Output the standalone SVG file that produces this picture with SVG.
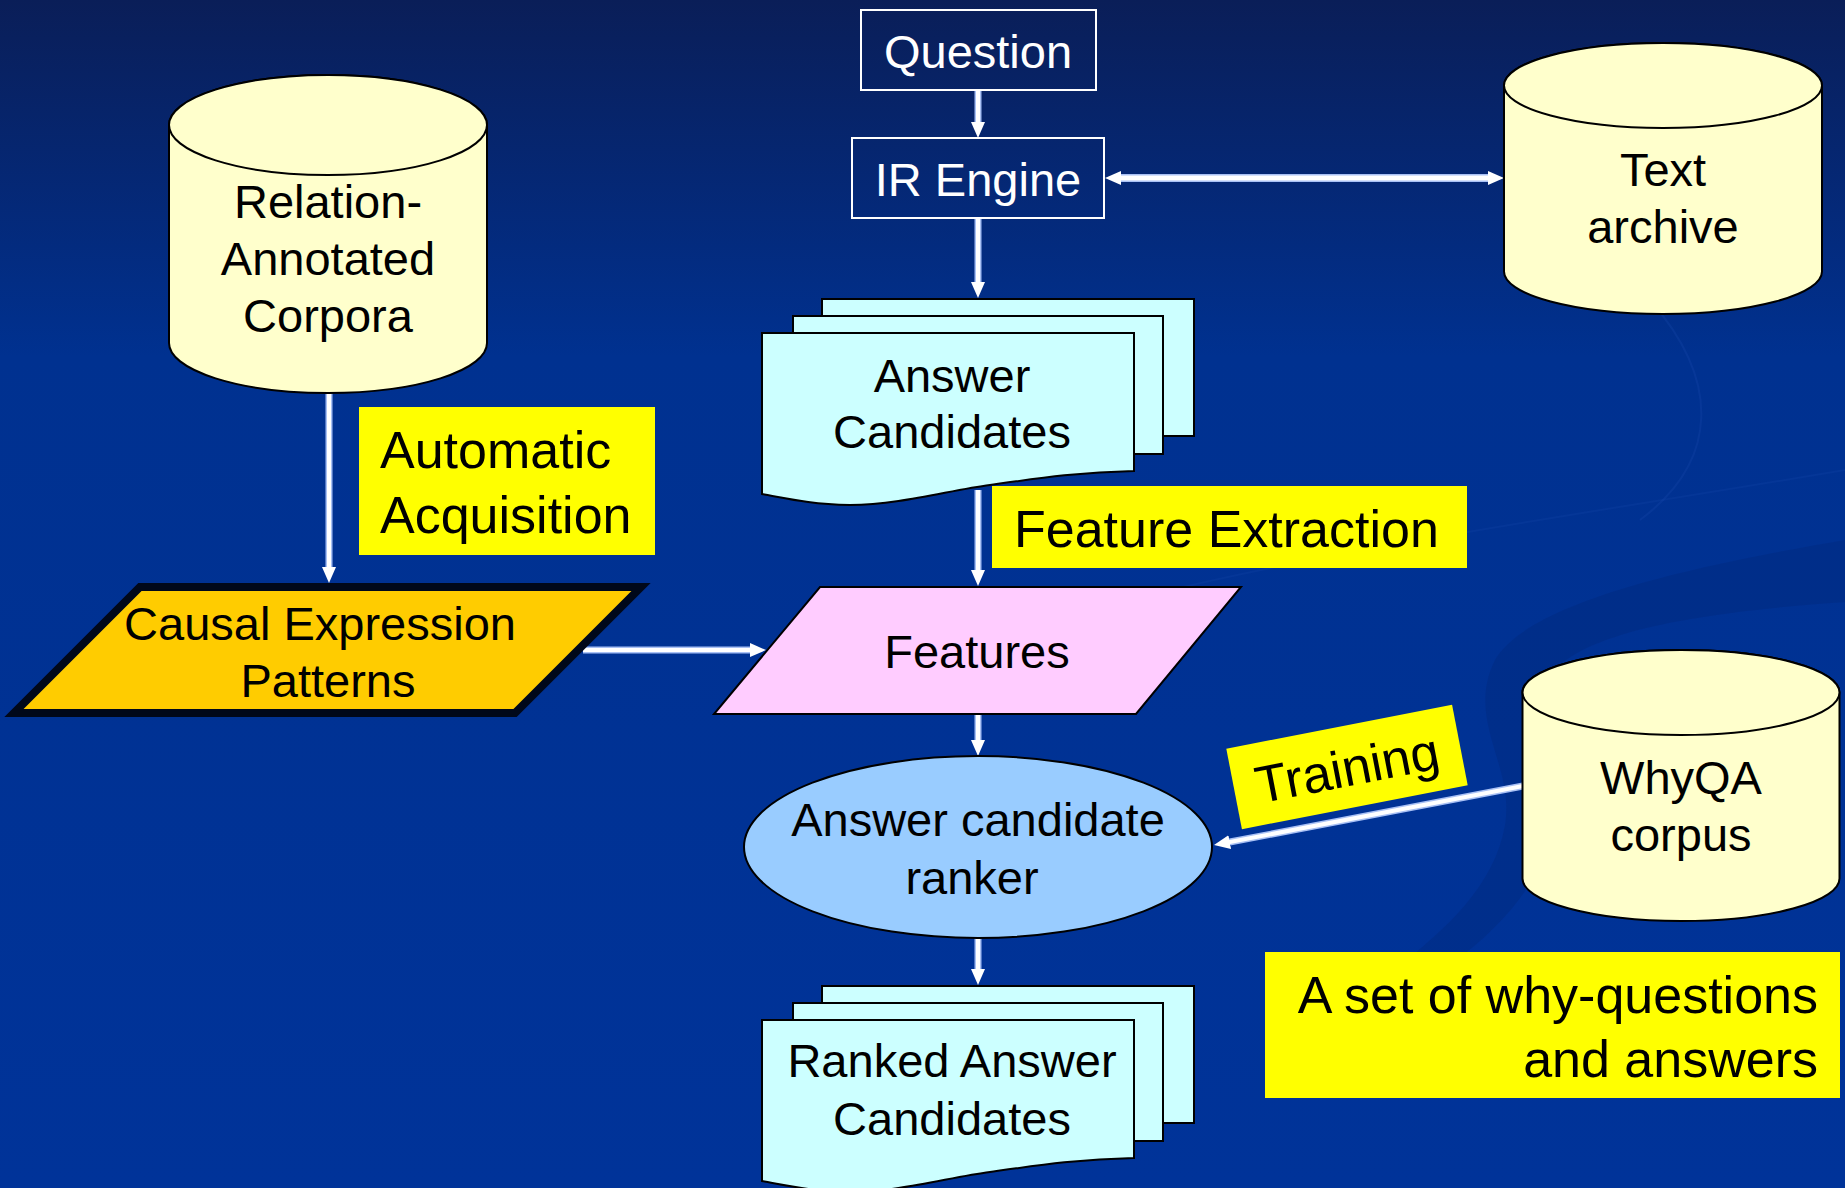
<svg xmlns="http://www.w3.org/2000/svg" width="1845" height="1188" viewBox="0 0 1845 1188">
<defs>
<linearGradient id="bg" x1="0" y1="0" x2="0" y2="1">
<stop offset="0" stop-color="#0a1e58"/>
<stop offset="0.3" stop-color="#003190"/>
<stop offset="1" stop-color="#003399"/>
</linearGradient>
<marker id="ah" viewBox="0 0 16 16" refX="4" refY="8" markerWidth="16" markerHeight="16" markerUnits="userSpaceOnUse" orient="auto-start-reverse">
<path d="M0,1 L16,8 L0,15 z" fill="#ffffff"/>
</marker>
<style>
.t{font-family:"Liberation Sans",Arial,sans-serif;fill:#000;}
.w{fill:#fff;}
.s47{font-size:47px;}
.s52{font-size:52px;}
.mid{text-anchor:middle;}
.end{text-anchor:end;}
.halo{fill:none;stroke:#a9c1f5;stroke-width:7;}
.line{fill:none;stroke:#ffffff;stroke-width:4;}
.db{fill:#FFFFCC;stroke:#000;stroke-width:2;}
.doc{fill:#CCFFFF;stroke:#000;stroke-width:2;}
.lbl{fill:#FFFF00;}
.box{fill:none;stroke:#fff;stroke-width:2;}
</style>
</defs>
<rect width="1845" height="1188" fill="url(#bg)"/>
<g id="background-swirls">
<path opacity="0.45" d="M1845,540 C1700,565 1530,600 1495,660 C1465,720 1515,765 1505,825 C1495,885 1445,930 1400,965 L1450,965 C1505,925 1548,875 1552,820 C1556,760 1525,720 1545,682 C1575,630 1705,612 1845,602 Z" fill="#002a7e"/>
<path opacity="0.2" d="M1060,620 C1250,560 1550,520 1845,470" fill="none" stroke="#1a4ab0" stroke-width="2"/>
<path opacity="0.25" d="M1650,300 C1720,380 1720,460 1640,520" fill="none" stroke="#1a4ab0" stroke-width="2"/>
</g>
<g id="connectors">
<path class="halo" d="M978,90 V126"/><path class="line" d="M978,90 V126" marker-end="url(#ah)"/>
<path class="halo" d="M1117,178 H1492" style="stroke-width:8"/><path class="line" d="M1117,178 H1492" style="stroke-width:5" marker-start="url(#ah)" marker-end="url(#ah)"/>
<path class="halo" d="M978,218 V286"/><path class="line" d="M978,218 V286" marker-end="url(#ah)"/>
<path class="halo" d="M978,490 V574"/><path class="line" d="M978,490 V574" marker-end="url(#ah)"/>
<path class="halo" d="M978,714 V744"/><path class="line" d="M978,714 V744" marker-end="url(#ah)"/>
<path class="halo" d="M978,938 V973"/><path class="line" d="M978,938 V973" marker-end="url(#ah)"/>
<path class="halo" d="M329,393 V571"/><path class="line" d="M329,393 V571" marker-end="url(#ah)"/>
<path class="halo" d="M583,650 H754"/><path class="line" d="M583,650 H754" marker-end="url(#ah)"/>
<path class="halo" d="M1523,786 L1225.8,842.8"/><path class="line" d="M1523,786 L1225.8,842.8" marker-end="url(#ah)"/>
</g>
<g id="question">
<rect class="box" x="861" y="10" width="235" height="80"/>
<text class="t w s47 mid" x="978" y="68">Question</text>
</g>
<g id="ir-engine">
<rect class="box" x="852" y="138" width="252" height="80"/>
<text class="t w s47 mid" x="978" y="196">IR Engine</text>
</g>
<g id="text-archive">
<path class="db" d="M1504,85.5 V271.5 A159,42.5 0 0 0 1822,271.5 V85.5 A159,42.5 0 0 0 1504,85.5 Z"/>
<ellipse class="db" cx="1663" cy="85.5" rx="159" ry="42.5"/>
<text class="t s47 mid" x="1663" y="186">Text</text>
<text class="t s47 mid" x="1663" y="243">archive</text>
</g>
<g id="relation-corpora">
<path class="db" d="M169,125 V343 A159,50 0 0 0 487,343 V125 A159,50 0 0 0 169,125 Z"/>
<ellipse class="db" cx="328" cy="125" rx="159" ry="50"/>
<text class="t s47 mid" x="328" y="218">Relation-</text>
<text class="t s47 mid" x="328" y="275">Annotated</text>
<text class="t s47 mid" x="328" y="332">Corpora</text>
</g>
<g id="answer-candidates">
<rect class="doc" x="822" y="299" width="372" height="137"/>
<rect class="doc" x="793" y="316" width="370" height="138"/>
<path class="doc" d="M762,333 H1134 V471 C1080,472 1040,478 990,485 C950,490 900,505 850,505 C810,504 790,499 762,494 Z"/>
<text class="t s47 mid" x="952" y="392">Answer</text>
<text class="t s47 mid" x="952" y="448">Candidates</text>
</g>
<g id="automatic-acquisition">
<rect class="lbl" x="359" y="407" width="296" height="148"/>
<text class="t s52" x="380" y="468">Automatic</text>
<text class="t s52" x="380" y="533">Acquisition</text>
</g>
<g id="feature-extraction">
<rect class="lbl" x="992" y="486" width="475" height="82"/>
<text class="t s52" x="1014" y="547">Feature Extraction</text>
</g>
<g id="causal-patterns">
<path d="M140,587 H641 L515,713 H14 Z" fill="#FFCC00" stroke="#00081a" stroke-width="8" stroke-linejoin="miter"/>
<text class="t s47 mid" x="320" y="640">Causal Expression</text>
<text class="t s47 mid" x="328" y="697">Patterns</text>
</g>
<g id="features">
<path d="M820,587 H1241 L1136,714 H714 Z" fill="#FFCCFF" stroke="#000" stroke-width="2"/>
<text class="t s47 mid" x="977" y="668">Features</text>
</g>
<g id="ranker">
<ellipse cx="978" cy="847" rx="234" ry="91" fill="#99CCFF" stroke="#000" stroke-width="2"/>
<text class="t s47 mid" x="978" y="836">Answer candidate</text>
<text class="t s47 mid" x="972" y="894">ranker</text>
</g>
<g id="training-label">
<g transform="rotate(-11 1347 767)">
<rect class="lbl" x="1232" y="726" width="230" height="82"/>
<text class="t s52 mid" x="1347" y="786">Training</text>
</g>
</g>
<g id="whyqa-corpus">
<path class="db" d="M1522.5,692.5 V878.5 A158.5,42.5 0 0 0 1839.5,878.5 V692.5 A158.5,42.5 0 0 0 1522.5,692.5 Z"/>
<ellipse class="db" cx="1681" cy="692.5" rx="158.5" ry="42.5"/>
<text class="t s47 mid" x="1681" y="794">WhyQA</text>
<text class="t s47 mid" x="1681" y="851">corpus</text>
</g>
<g id="why-questions-label">
<rect class="lbl" x="1265" y="952" width="575" height="146"/>
<text class="t s52 end" x="1818" y="1013">A set of why-questions</text>
<text class="t s52 end" x="1818" y="1077">and answers</text>
</g>
<g id="ranked-answer-candidates">
<rect class="doc" x="822" y="986" width="372" height="137"/>
<rect class="doc" x="793" y="1003" width="370" height="138"/>
<path class="doc" d="M762,1020 H1134 V1158 C1080,1159 1040,1165 990,1172 C950,1177 900,1192 850,1192 C810,1191 790,1186 762,1181 Z"/>
<text class="t s47 mid" x="952" y="1077">Ranked Answer</text>
<text class="t s47 mid" x="952" y="1135">Candidates</text>
</g>
</svg>
